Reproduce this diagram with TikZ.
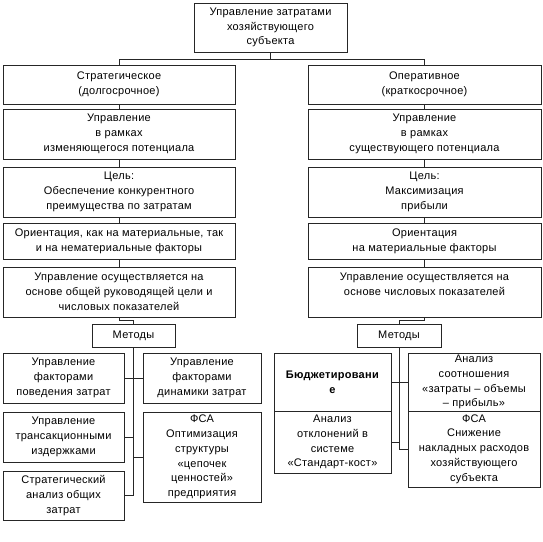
\documentclass[tikz,border=0pt]{standalone}
\usepackage{fontspec}
\setmainfont[LetterSpace=2.5]{Liberation Sans}
\begin{document}
\begin{tikzpicture}[x=1pt,y=-1pt,
  box/.style={draw=black!85, line width=0.8pt, inner sep=0pt, align=center,
    font=\fontsize{11}{14.8}\selectfont},
  conn/.style={draw=black!85, line width=0.8pt}]
\fill[white] (0,0) rectangle (543,541);
\useasboundingbox (0,0) rectangle (543,541);
\newcommand\bx[6]{\node[box, minimum width={#4-#2}, minimum height={#5-#3}] (#1) at ({(#2+#4)/2},{(#3+#5)/2}) {#6};}
\bx{top}{194}{3}{347}{52}{Управление затратами\\хозяйствующего\\субъекта}
\bx{S1}{3}{65}{235}{104}{Стратегическое\\(долгосрочное)}
\bx{O1}{308}{65}{541}{104}{Оперативное\\(краткосрочное)}
\bx{S2}{3}{109}{235}{159}{Управление\\в рамках\\изменяющегося потенциала}
\bx{O2}{308}{109}{541}{159}{Управление\\в рамках\\существующего потенциала}
\bx{S3}{3}{167}{235}{217}{Цель:\\Обеспечение конкурентного\\преимущества по затратам}
\bx{O3}{308}{167}{541}{217}{Цель:\\Максимизация\\прибыли}
\bx{S4}{3}{223}{235}{259}{Ориентация, как на материальные, так\\и на нематериальные факторы}
\bx{O4}{308}{223}{541}{259}{Ориентация\\на материальные факторы}
\bx{S5}{3}{267}{235}{317}{Управление осуществляется на\\основе общей руководящей цели и\\числовых показателей}
\bx{O5}{308}{267}{541}{317}{Управление осуществляется на\\основе числовых показателей\\\mbox{}}
\bx{ML}{92}{324}{175}{347}{Методы}
\bx{MR}{357}{324}{441}{347}{Методы}
\bx{L1}{3}{353}{124}{403}{Управление\\факторами\\поведения затрат}
\bx{L2}{3}{412}{124}{462}{Управление\\трансакционными\\издержками}
\bx{L3}{3}{471}{124}{520}{Стратегический\\анализ общих\\затрат}
\bx{M1}{143}{353}{261}{403}{Управление\\факторами\\динамики затрат}
\bx{M2}{143}{412}{261}{502}{ФСА\\Оптимизация\\структуры\\«цепочек\\ценностей»\\предприятия}
\bx{B1}{274}{353}{391}{411}{\textbf{Бюджетировани}\\\textbf{е}}
\bx{B2}{274}{411}{391}{473}{Анализ\\отклонений в\\системе\\«Стандарт-кост»}
\bx{R1}{408}{353}{540}{411}{Анализ\\соотношения\\«затраты – объемы\\– прибыль»}
\bx{R2}{408}{411}{540}{487}{ФСА\\Снижение\\накладных расходов\\хозяйствующего\\субъекта}
% connectors
\draw[conn] (top.south) -- ++(0,7) -| (S1.north);
\draw[conn] (top.south) -- ++(0,7) -| (O1.north);
\foreach \a/\b in {S1/S2,S2/S3,S3/S4,S4/S5,O1/O2,O2/O3,O3/O4,O4/O5}
  \draw[conn] (\a.south) -- (\b.north);
\draw[conn] (S5.south) -- ++(0,3) -| (ML.north);
\draw[conn] (O5.south) -- ++(0,3) -| (MR.north);
\draw[conn] (ML.south) -- (ML.south |- L3.east);
\draw[conn] (L1.east) -- (M1.west);
\draw[conn] (L2.east) -- (L2.east -| ML.south);
\draw[conn] (L3.east) -- (L3.east -| ML.south);
\draw[conn] (M2.west) -- (M2.west -| ML.south);
\draw[conn] (MR.south) -- (MR.south |- R2.west);
\draw[conn] (B1.east) -- (R1.west);
\draw[conn] (B2.east) -- (B2.east -| MR.south);
\draw[conn] (R2.west) -- (R2.west -| MR.south);
\end{tikzpicture}
\end{document}
